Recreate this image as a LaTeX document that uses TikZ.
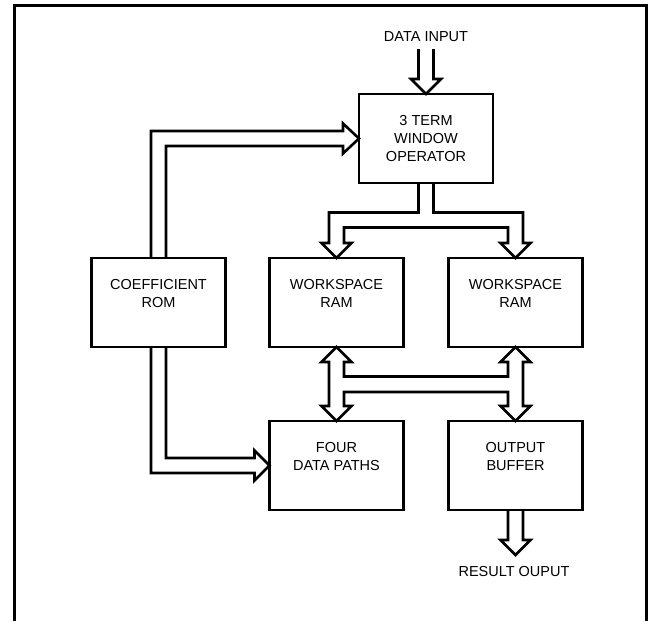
\documentclass[tikz,border=0pt]{standalone}
\usepackage{fontspec}
\setmainfont{Liberation Sans}
\usetikzlibrary{calc}
\tikzset{
  blk/.style={draw, line width=2.6pt, minimum width=134pt, minimum height=89pt,
    inner sep=0pt, outer sep=0pt, align=center, font=\fontsize{14.5}{18}\selectfont},
  bus/.style={draw, line width=2.6pt, line join=miter},
  lbl/.style={font=\fontsize{14.5}{18}\selectfont, inner sep=0pt}
}
\begin{document}
\begin{tikzpicture}[x=1pt,y=-1pt]
\useasboundingbox (0,0) rectangle (652,621);
% frame
\draw[line width=3pt] (14,621) -- (14,5.5) -- (646,5.5) -- (646,621);

% blocks
\node[blk] (op)  at (426,138.5) {3 TERM\\WINDOW\\OPERATOR};
\node[blk] (rom) at (158.5,302.5) {COEFFICIENT\\ROM\\\mbox{}};
\node[blk] (wsl) at (336.5,302.5) {WORKSPACE\\RAM\\\mbox{}};
\node[blk] (wsr) at (515.5,302.5) {WORKSPACE\\RAM\\\mbox{}};
\node[blk] (fdp) at (336.5,465.5) {FOUR\\DATA PATHS\\\mbox{}};
\node[blk] (ob)  at (515.5,465.5) {OUTPUT\\BUFFER\\\mbox{}};

% texts
\node[lbl] (din) at (426,37) {DATA INPUT};
\node[lbl] (rout) at (514,571) {RESULT OUPUT};

% data input arrow
\draw[bus] ($(op.north)+(-7.5,-45)$) -- ++(0,30) -- ++(-7.5,0) -- (op.north)
  -- ++(15,-15) -- ++(-7.5,0) -- ++(0,-30);

% coefficient ROM -> operator
\draw[bus] ($(rom.north)+(-7.5,0)$) |- ($(op.west)+(-16,-7.5)$) -- ++(0,-7.5)
  -- (op.west) -- ++(-16,15) -- ++(0,-7.5) -| ($(rom.north)+(7.5,0)$);

% coefficient ROM -> four data paths
\draw[bus] ($(rom.south)+(-7.5,0)$) |- ($(fdp.west)+(-15,7.5)$) -- ++(0,7.5)
  -- (fdp.west) -- ++(-15,-15) -- ++(0,7.5) -| ($(rom.south)+(7.5,0)$);

% operator -> workspace RAMs
\draw[bus] ($(op.south)+(-7.5,0)$) |- ($(wsl.north)+(-7.5,-45.5)$)
  -- ($(wsl.north)+(-7.5,-15)$) -- ++(-7.5,0) -- (wsl.north) -- ++(15,-15) -- ++(-7.5,0)
  |- ($(wsr.north)+(-7.5,-30.5)$)
  -- ($(wsr.north)+(-7.5,-15)$) -- ++(-7.5,0) -- (wsr.north) -- ++(15,-15) -- ++(-7.5,0)
  |- ($(op.south)+(7.5,29.5)$) -- ($(op.south)+(7.5,0)$);

% workspace RAMs <-> four data paths / output buffer
\draw[bus] ($(wsl.south)+(-7.5,15)$) -- ++(-7.5,0) -- (wsl.south) -- ++(15,15) -- ++(-7.5,0)
  |- ($(wsr.south)+(-7.5,29.5)$)
  -- ($(wsr.south)+(-7.5,15)$) -- ++(-7.5,0) -- (wsr.south) -- ++(15,15) -- ++(-7.5,0)
  -- ($(ob.north)+(7.5,-15)$) -- ++(7.5,0) -- (ob.north) -- ++(-15,-15) -- ++(7.5,0)
  |- ($(fdp.north)+(7.5,-29)$)
  -- ($(fdp.north)+(7.5,-15)$) -- ++(7.5,0) -- (fdp.north) -- ++(-15,-15) -- ++(7.5,0)
  -- cycle;

% result output arrow
\coordinate (rtip) at ($(ob.south)+(0,45)$);
\draw[bus] ($(ob.south)+(-7.5,0)$) -- ++(0,30) -- ++(-7.5,0) -- (rtip)
  -- ++(15,-15) -- ++(-7.5,0) -- ($(ob.south)+(7.5,0)$);
\end{tikzpicture}
\end{document}
